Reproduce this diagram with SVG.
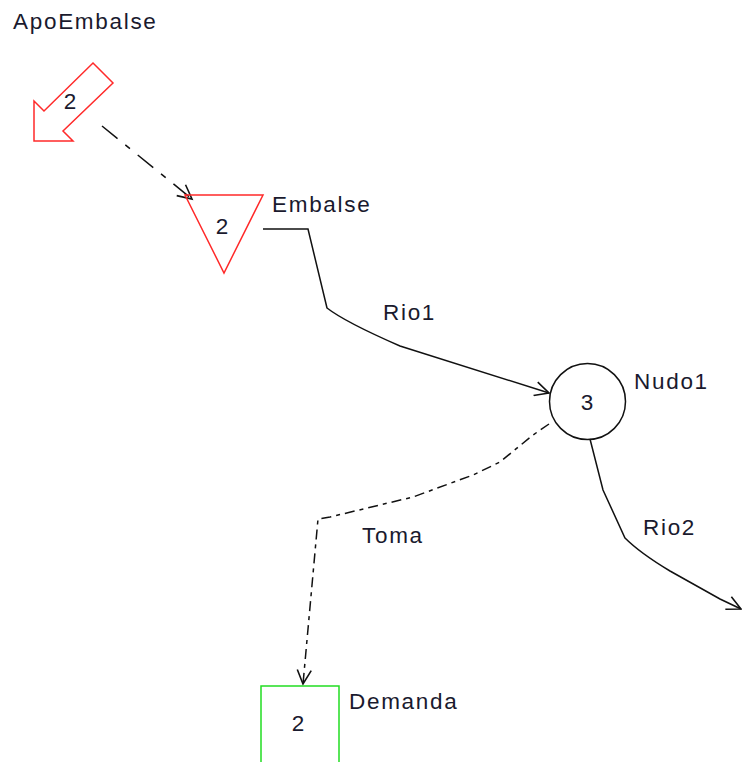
<svg xmlns="http://www.w3.org/2000/svg" width="742" height="762" viewBox="0 0 742 762">
  <style>
    .lbl { font-family: "Liberation Sans", Arial, sans-serif; font-size: 22.5px; letter-spacing: 1.7px; fill: #1a1a2e; }
    .num { font-family: "Liberation Sans", Arial, sans-serif; font-size: 22.5px; fill: #1a1a2e; text-anchor: middle; }
    .red { fill: none; stroke: #ff2a2a; stroke-width: 1.5; }
    .green { fill: none; stroke: #22dd22; stroke-width: 1.5; }
    .blk { fill: none; stroke: #111; stroke-width: 1.5; }
    .conn { fill: none; stroke: #111; stroke-width: 1.5; marker-end: url(#arr); }
    .dashA { stroke-dasharray: 20 10 6 10; }
    .dashB { stroke-dasharray: 10 5 4 5; }
  </style>
  <defs>
    <marker id="arr" markerUnits="userSpaceOnUse" markerWidth="18" markerHeight="16" refX="15" refY="7" orient="auto" viewBox="0 0 18 14">
      <path d="M1,0 L15,7 L1,14" fill="none" stroke="#111" stroke-width="1.6"/>
    </marker>
  </defs>
  <rect width="742" height="762" fill="#ffffff"/>

  <!-- connectors -->
  <g id="connectors">
    <path id="c-apo" class="conn dashA" d="M102,126 L192,199"/>
    <path id="c-rio1" class="conn" d="M263,229 L308,229 L327,308 Q345,322 400,346 L549,393"/>
    <text class="lbl" x="383" y="320">Rio1</text>
    <path id="c-rio2" class="conn" d="M590,439 L603,490 L625,538 Q640,553 670,571 L720,599 L741,609"/>
    <text class="lbl" x="643" y="535">Rio2</text>
    <path id="c-toma" class="conn dashB" d="M549,424 L533,435 L500,462 L473,475 L413,497 L330,517 L318,519 L303,684"/>
    <text class="lbl" x="362" y="543">Toma</text>
  </g>

  <!-- contribution -->
  <g id="ApoEmbalse">
    <polygon class="red" points="93,63 113,83 63,131 73,141 34,141 34,101 44,111"/>
    <text class="num" x="70" y="109">2</text>
    <text class="lbl" x="13" y="29">ApoEmbalse</text>
  </g>

  <!-- reservoir -->
  <g id="Embalse">
    <polygon class="red" points="185,195 263,195 224,273"/>
    <text class="num" x="222" y="234">2</text>
    <text class="lbl" x="272" y="212">Embalse</text>
  </g>

  <!-- junction -->
  <g id="Nudo1">
    <circle class="blk" cx="587.5" cy="401.5" r="38"/>
    <text class="num" x="587" y="410">3</text>
    <text class="lbl" x="634" y="389">Nudo1</text>
  </g>

  <!-- demand -->
  <g id="Demanda">
    <rect class="green" x="261" y="686" width="78" height="100"/>
    <text class="num" x="298" y="731">2</text>
    <text class="lbl" x="349" y="709">Demanda</text>
  </g>
</svg>
